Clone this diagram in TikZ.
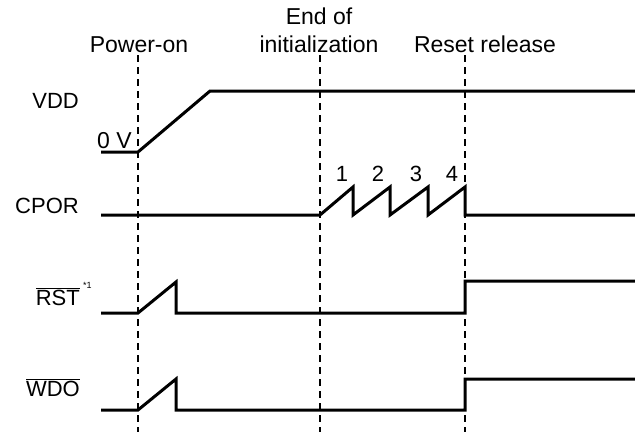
\documentclass[tikz,border=0pt]{standalone}
\usepackage{fontspec}
\setmainfont{Liberation Sans}
\begin{document}
\begin{tikzpicture}[x=1pt,y=-1pt,
  sig/.style={line width=3pt, line join=miter},
  guide/.style={line width=1.3pt, dash pattern=on 7pt off 5pt},
  lbl/.style={inner sep=0pt, font=\fontsize{23}{27}\selectfont},
  side/.style={inner sep=0pt, font=\fontsize{22}{26}\selectfont},
  num/.style={inner sep=0pt, font=\fontsize{22}{26}\selectfont}]
\useasboundingbox (0,0) rectangle (635,432);
% guides
\draw[guide] (138,55) -- (138,432);
\draw[guide] (320,55) -- (320,432);
\draw[guide] (465,55) -- (465,432);
% top labels
\node[lbl,anchor=base] (pon) at (139,52) {Power-on};
\node[lbl,anchor=base] (eo) at (319,24) {End of};
\node[lbl,anchor=base] (init) at (319,52) {initialization};
\node[lbl,anchor=base] (rr) at (485,52) {Reset release};
% left labels
\node[side,anchor=base east] (vdd) at (79,108) {VDD};
\node[lbl,anchor=base west] (zv) at (97,148) {0 V};
\node[side,anchor=base east] (cpor) at (79,213) {CPOR};
\node[side,anchor=base east] (rst) at (80,305) {$\overline{\mbox{RST}}$};
\node[inner sep=0pt,anchor=base west,font=\fontsize{9}{10}\selectfont] (n1) at (83,288) {*1};
\node[side,anchor=base east] (wdo) at (80,396) {$\overline{\mbox{WDO}}$};
% numbers
\node[num,anchor=base] (c1) at (342,181) {1};
\node[num,anchor=base] (c2) at (378,181) {2};
\node[num,anchor=base] (c3) at (416,181) {3};
\node[num,anchor=base] (c4) at (452,181) {4};
% VDD
\draw[sig] (101,152) -- (138,152) -- (210,91) -- (635,91);
% CPOR
\draw[sig] (101,215) -- (320,215) -- (353,187) -- (353,215) -- (390,187) -- (390,215)
  -- (428,187) -- (428,215) -- (465,187) -- (465,215) -- (635,215);
% RST
\draw[sig] (101,313) -- (138,313) -- (176,282) -- (176,313) -- (465,313) -- (465,281) -- (635,281);
% WDO
\draw[sig] (101,410) -- (138,410) -- (176,379) -- (176,410) -- (465,410) -- (465,379) -- (635,379);
\end{tikzpicture}
\end{document}
